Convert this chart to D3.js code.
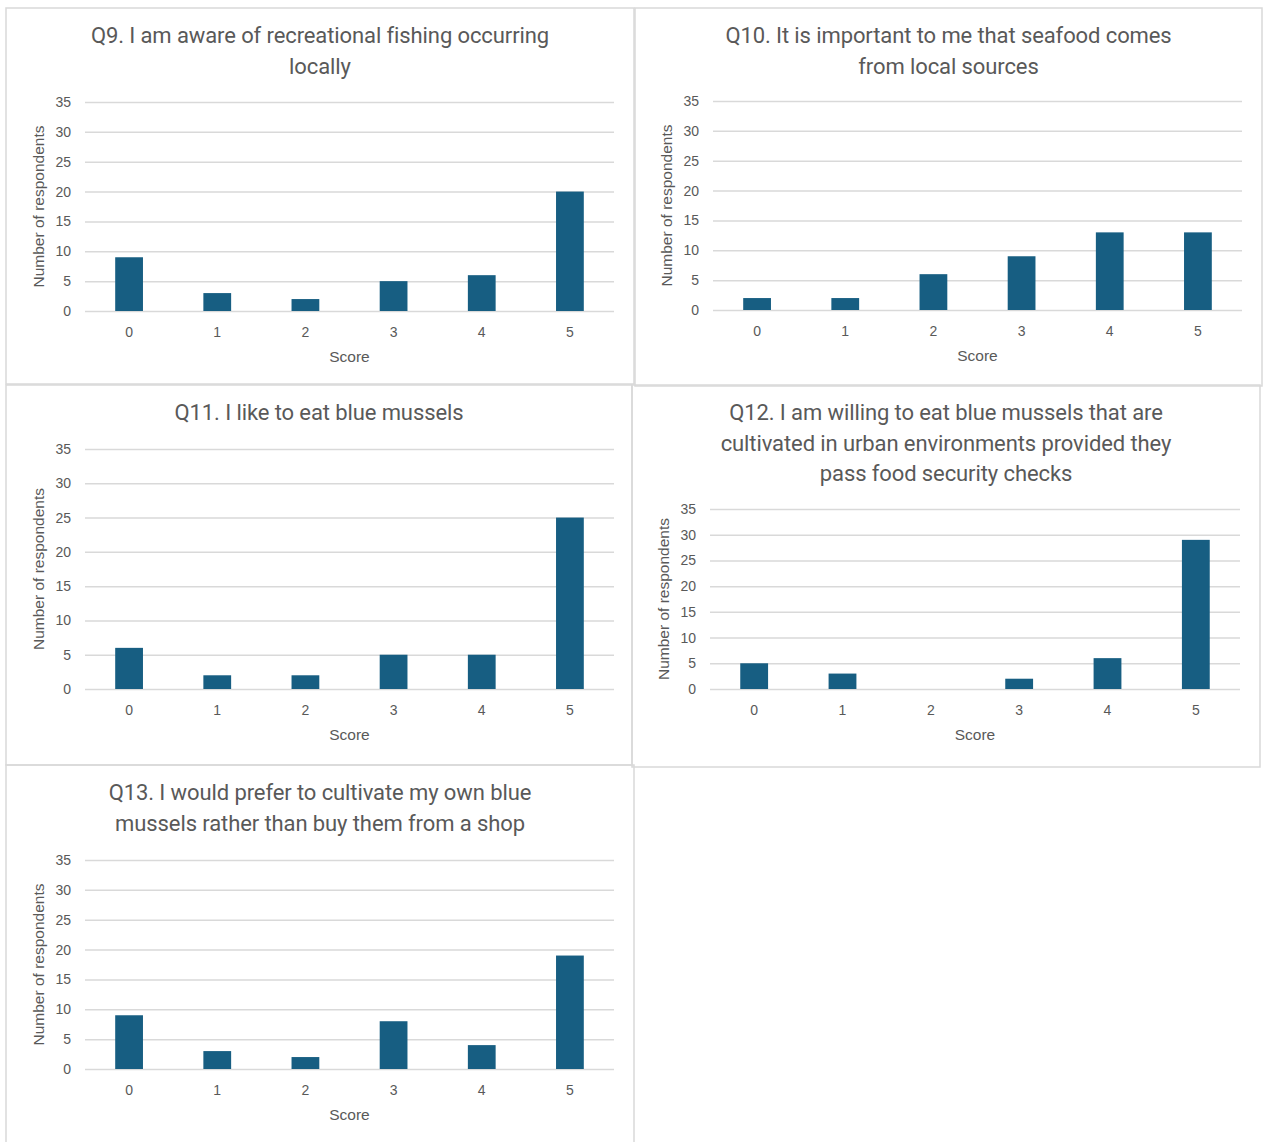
<!DOCTYPE html>
<html>
<head>
<meta charset="utf-8">
<script src="https://cdn.jsdelivr.net/npm/d3@7/dist/d3.min.js"></script>
<style>
  html, body { margin: 0; padding: 0; background: #ffffff; }
  svg { display: block; }
</style>
</head>
<body>
<svg id="chart" width="1263" height="1142"></svg>
<script>
// ---- Data ----
const scores = ["0", "1", "2", "3", "4", "5"];
const yTicks = [0, 5, 10, 15, 20, 25, 30, 35];

const q9Title = ["Q9. I am aware of recreational fishing occurring", "locally"];
const q9Values = [9, 3, 2, 5, 6, 20];

const q10Title = ["Q10. It is important to me that seafood comes", "from local sources"];
const q10Values = [2, 2, 6, 9, 13, 13];

const q11Title = ["Q11. I like to eat blue mussels"];
const q11Values = [6, 2, 2, 5, 5, 25];

const q12Title = ["Q12. I am willing to eat blue mussels that are", "cultivated in urban environments provided they", "pass food security checks"];
const q12Values = [5, 3, 0, 2, 6, 29];

const q13Title = ["Q13. I would prefer to cultivate my own blue", "mussels rather than buy them from a shop"];
const q13Values = [9, 3, 2, 8, 4, 19];

const xAxisTitle = "Score";
const yAxisTitle = "Number of respondents";

// ---- Layout (positions only) ----
const panels = [
  { title: q9Title,  values: q9Values,  box: [6, 8, 634, 384],    plot: [85, 102, 614, 311],  titleY: 37.5 },
  { title: q10Title, values: q10Values, box: [635, 8, 1262, 386], plot: [713, 101, 1242, 310], titleY: 37.5 },
  { title: q11Title, values: q11Values, box: [6, 385, 632, 765],  plot: [85, 449, 614, 689],  titleY: 414.5 },
  { title: q12Title, values: q12Values, box: [632, 385, 1260, 767], plot: [710, 509, 1240, 689], titleY: 414.5 },
  { title: q13Title, values: q13Values, box: [6, 765, 634, 1146], plot: [85, 860, 614, 1069], titleY: 794.5 }
];

const barColor = "#175E82";
const gridColor = "#D9D9D9";
const textColor = "#595959";
const borderColor = "#D9D9D9";
const tickFont = "'Liberation Sans', Arial, sans-serif";
const titleFont = "Roboto, 'Noto Sans', sans-serif";

const svg = d3.select("#chart");

panels.forEach(p => {
  const [bx0, by0, bx1, by1] = p.box;
  const [px0, py0, px1, py1] = p.plot;
  const g = svg.append("g");

  // border
  g.append("rect")
    .attr("x", bx0).attr("y", by0)
    .attr("width", bx1 - bx0).attr("height", by1 - by0)
    .attr("fill", "none")
    .attr("stroke", borderColor)
    .attr("stroke-width", 1.5);

  const x = d3.scaleBand()
    .domain(scores)
    .range([px0, px1])
    .paddingInner(0.685)
    .paddingOuter(0.3425);

  const y = d3.scaleLinear().domain([0, 35]).range([py1, py0]);

  // gridlines via axis
  const yAxis = d3.axisLeft(y)
    .tickValues(yTicks)
    .tickSize(-(px1 - px0))
    .tickPadding(14)
    .tickFormat(d3.format("d"));

  const ya = g.append("g")
    .attr("transform", `translate(${px0},0)`)
    .call(yAxis);
  ya.select(".domain").remove();
  ya.selectAll(".tick line").attr("stroke", gridColor).attr("stroke-width", 1.5);
  ya.selectAll(".tick text")
    .attr("fill", textColor)
    .style("font-family", tickFont)
    .style("font-size", "14px");

  // bars
  g.selectAll("rect.bar")
    .data(p.values)
    .join("rect")
    .attr("class", "bar")
    .attr("x", (d, i) => x(scores[i]))
    .attr("width", x.bandwidth())
    .attr("y", d => y(d))
    .attr("height", d => y(0) - y(d))
    .attr("fill", barColor);

  // x axis
  const xAxis = d3.axisBottom(x).tickSize(0).tickPadding(16);
  const xa = g.append("g")
    .attr("transform", `translate(0,${py1})`)
    .call(xAxis);
  xa.select(".domain").remove();
  xa.selectAll(".tick text")
    .attr("fill", textColor)
    .style("font-family", tickFont)
    .style("font-size", "14px");

  // x axis title
  g.append("text")
    .attr("x", (px0 + px1) / 2)
    .attr("y", py1 + 47)
    .attr("text-anchor", "middle")
    .attr("dominant-baseline", "middle")
    .attr("fill", textColor)
    .style("font-family", tickFont)
    .style("font-size", "15.5px")
    .text(xAxisTitle);

  // y axis title
  g.append("text")
    .attr("transform", `translate(${px0 - 45},${(py0 + py1) / 2}) rotate(-90)`)
    .attr("text-anchor", "middle")
    .attr("dominant-baseline", "middle")
    .attr("fill", textColor)
    .style("font-family", tickFont)
    .style("font-size", "15.5px")
    .text(yAxisTitle);

  // title
  const cx = (bx0 + bx1) / 2;
  p.title.forEach((line, i) => {
    g.append("text")
      .attr("x", cx)
      .attr("y", p.titleY + i * 30.5)
      .attr("text-anchor", "middle")
      .attr("dominant-baseline", "middle")
      .attr("fill", textColor)
      .style("font-family", titleFont)
      .style("font-size", "22px")
      .style("letter-spacing", "-0.1px")
      .text(line);
  });
});
</script>
</body>
</html>
